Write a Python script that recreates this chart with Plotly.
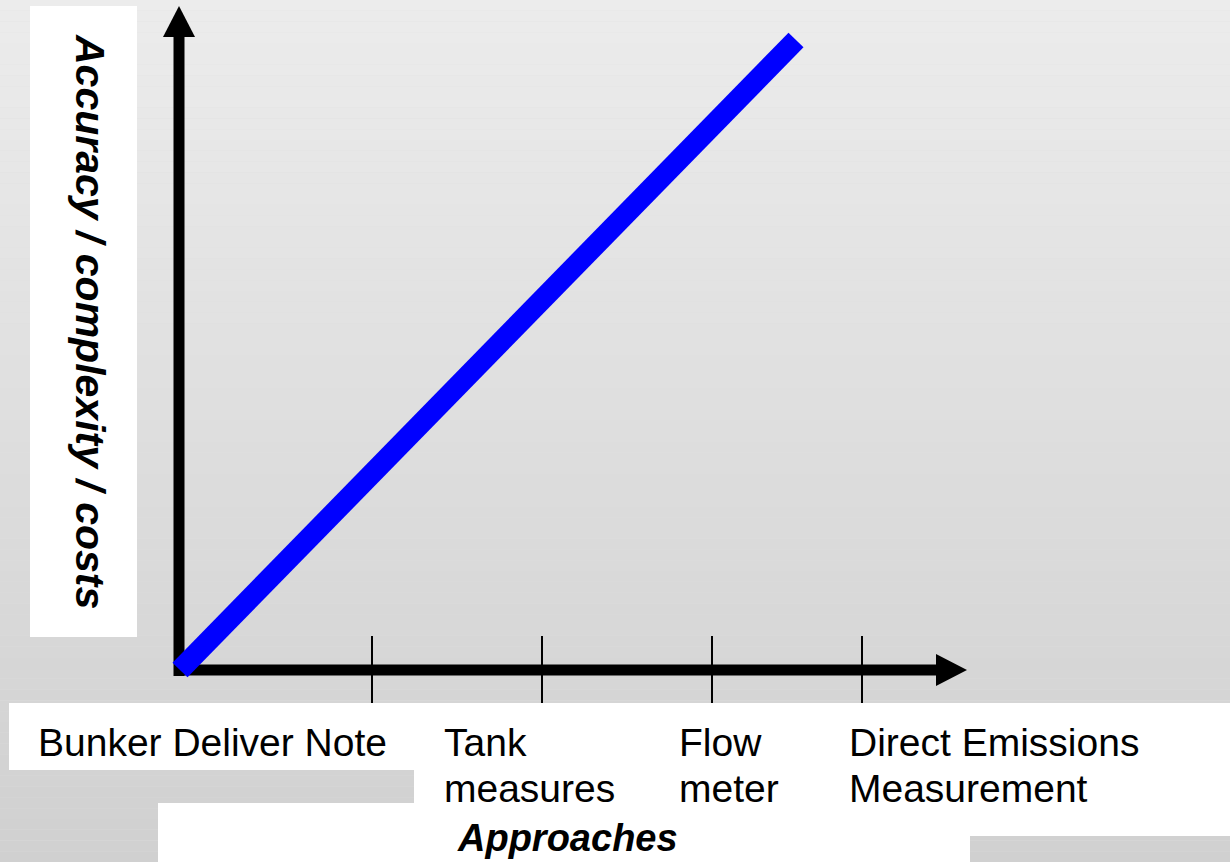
import plotly.graph_objects as go

# ---------------- data ----------------
approach_labels = ["Bunker Deliver Note", "Tank<br>measures", "Flow<br>meter",
                   "Direct Emissions<br>Measurement"]
separator_x = [192, 362, 532, 682]          # approach separators on the x axis
trend_x = [0, 616]                          # approaches (origin -> direct measurement)
trend_y = [0, 630]                          # accuracy / complexity / costs
y_title = "Accuracy / complexity / costs"
x_title = "Approaches"

# ---------------- layout helpers ----------------
W, H = 1230, 862
OX, OY = 180, 670            # pixel position of the data origin
X_RANGE = [-OX, W - OX]
Y_RANGE = [OY - H, OY]


def xp(px):   # pixel -> paper
    return px / W


def yp(py):
    return 1 - py / H


shapes = []
# gradient background
n_bands = 80
top, bot = 236, 208
for i in range(n_bands):
    c = round(top + (bot - top) * (i + 0.5) / n_bands)
    shapes.append(dict(type="rect", xref="paper", yref="paper", layer="below",
                       x0=0, x1=1, y0=1 - i / n_bands, y1=1 - (i + 1) / n_bands,
                       line=dict(width=0), fillcolor=f"rgb({c},{c},{c})"))

# white text boxes
for (x0, y0, x1, y1) in [(30, 6, 137, 637), (9, 703, 414, 770),
                         (414, 703, 1230, 836), (158, 803, 970, 862)]:
    shapes.append(dict(type="rect", xref="paper", yref="paper", layer="below",
                       x0=xp(x0), x1=xp(x1), y0=yp(y0), y1=yp(y1),
                       line=dict(width=0), fillcolor="white"))

# axes with arrowheads (data coordinates)
x_tip, y_tip = 787, 664
head_len, head_half = 31, 16
shapes.append(dict(type="line", layer="below", x0=-1, x1=-1, y0=-6, y1=y_tip - head_len + 1,
                   line=dict(color="black", width=11)))
shapes.append(dict(type="line", layer="below", x0=-6, x1=x_tip - head_len + 1, y0=0, y1=0,
                   line=dict(color="black", width=11)))
shapes.append(dict(type="path", layer="below",
                   path=f"M {-1 - head_half},{y_tip - head_len} L {-1 + head_half},{y_tip - head_len} "
                        f"L -1,{y_tip} Z",
                   fillcolor="black", line=dict(width=0)))
shapes.append(dict(type="path", layer="below",
                   path=f"M {x_tip - head_len},{-head_half} L {x_tip - head_len},{head_half} "
                        f"L {x_tip},0 Z",
                   fillcolor="black", line=dict(width=0)))
# separators
for sx in separator_x:
    shapes.append(dict(type="line", layer="below", x0=sx, x1=sx, y0=34, y1=-33,
                       line=dict(color="black", width=2)))

FONT = "Liberation Sans, Arial, sans-serif"
annotations = []
annotations.append(dict(xref="paper", yref="paper", x=xp(90), y=yp(321), text=y_title,
                        textangle=90, showarrow=False, xanchor="center", yanchor="middle",
                        font=dict(family=FONT, size=41, color="black", weight="bold",
                                  style="italic")))
annotations.append(dict(xref="paper", yref="paper", x=xp(567), y=yp(838), text=x_title,
                        showarrow=False, xanchor="center", yanchor="middle",
                        font=dict(family=FONT, size=38, color="black", weight="bold",
                                  style="italic")))
label_left_px = [36, 442, 677, 847]
line_centers_px = [742, 788]
for lab, lx in zip(approach_labels, label_left_px):
    for j, part in enumerate(lab.split("<br>")):
        annotations.append(dict(xref="paper", yref="paper", x=xp(lx), y=yp(line_centers_px[j]),
                                text=part, showarrow=False, xanchor="left", yanchor="middle",
                                font=dict(family=FONT, size=39, color="black")))

fig = go.Figure()
fig.add_trace(go.Scatter(x=trend_x, y=trend_y, mode="lines", cliponaxis=False,
                         line=dict(color="#0000ff", width=21), hoverinfo="skip"))

fig.update_layout(
    width=W, height=H, margin=dict(l=0, r=0, t=0, b=0),
    paper_bgcolor="rgb(222,222,222)", plot_bgcolor="rgba(0,0,0,0)",
    showlegend=False,
    xaxis=dict(range=X_RANGE, visible=False, fixedrange=True),
    yaxis=dict(range=Y_RANGE, visible=False, fixedrange=True),
    shapes=shapes, annotations=annotations,
)

fig.write_html("out.html", config={"displayModeBar": False},
               post_script="document.body.style.margin='0';document.body.style.overflow='hidden';")
